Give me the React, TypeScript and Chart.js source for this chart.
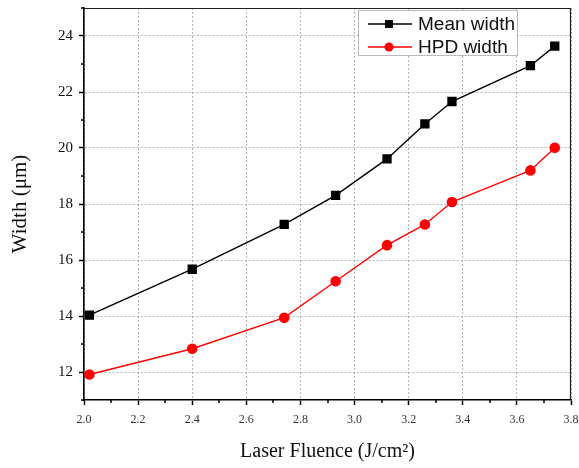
import { useEffect, useRef } from 'react';
import { Chart, registerables } from 'chart.js';

Chart.register(...registerables);

const fluence = [2.02, 2.40, 2.74, 2.93, 3.12, 3.26, 3.36, 3.65, 3.74];
const meanWidth = [14.03, 15.67, 17.27, 18.31, 19.61, 20.86, 21.66, 22.94, 23.64];
const hpdWidth = [11.91, 12.83, 13.94, 15.24, 16.53, 17.27, 18.07, 19.20, 20.01];
const seriesNames = ['Mean width', 'HPD width'];
const xTicks = [2.0, 2.2, 2.4, 2.6, 2.8, 3.0, 3.2, 3.4, 3.6, 3.8];
const xMinor = [2.1, 2.3, 2.5, 2.7, 2.9, 3.1, 3.3, 3.5, 3.7];
const yTicks = [12, 14, 16, 18, 20, 22, 24];
const yMinor = [11, 13, 15, 17, 19, 21, 23, 25];
const xTitle = 'Laser Fluence (J/cm²)';
const yTitle = 'Width (μm)';

const decor = {
  id: 'decor',
  afterDraw(chart: any) {
    const { ctx, chartArea: a, scales } = chart;
    const x = scales.x;
    const y = scales.y;
    ctx.save();
    // top and right frame
    ctx.strokeStyle = '#222';
    ctx.lineWidth = 1.2;
    ctx.beginPath();
    ctx.moveTo(a.left, a.top + 0.5);
    ctx.lineTo(a.right, a.top + 0.5);
    ctx.moveTo(a.right - 0.5, a.top);
    ctx.lineTo(a.right - 0.5, a.bottom);
    ctx.stroke();
    // minor ticks
    ctx.strokeStyle = '#000';
    ctx.lineWidth = 1.5;
    ctx.beginPath();
    xMinor.forEach((v) => {
      const px = Math.round(x.getPixelForValue(v));
      ctx.moveTo(px, a.bottom);
      ctx.lineTo(px, a.bottom + 3);
    });
    yMinor.forEach((v) => {
      const py = Math.round(y.getPixelForValue(v));
      ctx.moveTo(a.left, py);
      ctx.lineTo(a.left - 3, py);
    });
    ctx.stroke();

    // legend
    const bx = a.right - 213;
    const by = a.top + 2;
    const bw = 159;
    const bh = 45;
    ctx.fillStyle = '#fff';
    ctx.fillRect(bx, by, bw, bh);
    ctx.strokeStyle = '#777';
    ctx.lineWidth = 1;
    ctx.setLineDash([1, 1]);
    ctx.strokeRect(bx + 0.5, by + 0.5, bw, bh);
    ctx.setLineDash([]);
    chart.data.datasets.forEach((ds: any, i: number) => {
      const cy = by + 14 + i * 23;
      ctx.strokeStyle = ds.borderColor;
      ctx.lineWidth = 1.5;
      ctx.beginPath();
      ctx.moveTo(bx + 10, cy);
      ctx.lineTo(bx + 54, cy);
      ctx.stroke();
      ctx.fillStyle = ds.backgroundColor;
      if (ds.pointStyle === 'rect') {
        ctx.fillRect(bx + 27, cy - 4, 8, 8);
      } else {
        ctx.beginPath();
        ctx.arc(bx + 31, cy, 4.5, 0, Math.PI * 2);
        ctx.fill();
      }
      ctx.fillStyle = '#111';
      ctx.font = '19px "Liberation Sans", Arial, sans-serif';
      ctx.textBaseline = 'middle';
      ctx.textAlign = 'left';
      ctx.fillText(ds.label, bx + 60, cy + 1);
    });
    ctx.restore();
  },
};

export default function App() {
  const ref = useRef<HTMLCanvasElement | null>(null);
  useEffect(() => {
    document.body.style.margin = '0';
    const canvas = ref.current;
    if (!canvas) return;
    const serif = '"Liberation Serif", "Times New Roman", serif';
    const chart = new Chart(canvas, {
      type: 'line',
      data: {
        datasets: [
          {
            label: seriesNames[0],
            data: fluence.map((f, i) => ({ x: f, y: meanWidth[i] })),
            borderColor: '#000',
            backgroundColor: '#000',
            borderWidth: 1.4,
            pointStyle: 'rect',
            pointRadius: 5.6,
            tension: 0,
          },
          {
            label: seriesNames[1],
            data: fluence.map((f, i) => ({ x: f, y: hpdWidth[i] })),
            borderColor: '#ff0000',
            backgroundColor: '#ff0000',
            borderWidth: 1.4,
            pointStyle: 'circle',
            pointRadius: 4.6,
            tension: 0,
          },
        ],
      },
      options: {
        responsive: false,
        animation: false,
        layout: { padding: { left: 0, right: 8, top: 8, bottom: 0 } },
        plugins: { legend: { display: false }, tooltip: { enabled: false } },
        scales: {
          x: {
            type: 'linear',
            min: 2.0,
            max: 3.8,
            afterBuildTicks: (s: any) => {
              s.ticks = xTicks.map((v) => ({ value: v }));
            },
            afterFit: (s: any) => {
              s.height = 68;
              s.paddingLeft = 0;
              s.paddingRight = 0;
            },
            grid: {
              color: '#b4b4b4',
              lineWidth: 1,
              tickLength: 5,
              tickColor: '#000',
              tickWidth: 1.5,
            },
            border: { color: '#000', width: 1.6, dash: [2, 2] },
            ticks: {
              color: '#333',
              font: { family: serif, size: 12 },
              padding: 8,
              maxRotation: 0,
              autoSkip: false,
              callback: (v: any) => Number(v).toFixed(1),
            },
            title: {
              display: true,
              text: xTitle,
              color: '#111',
              font: { family: serif, size: 20 },
              padding: { top: 0, bottom: 4 },
            },
          },
          y: {
            type: 'linear',
            min: 11,
            max: 25,
            afterBuildTicks: (s: any) => {
              s.ticks = yTicks.map((v) => ({ value: v }));
            },
            afterFit: (s: any) => {
              s.width = 84;
              s.paddingTop = 0;
              s.paddingBottom = 0;
            },
            grid: {
              color: '#b4b4b4',
              lineWidth: 1,
              tickLength: 5,
              tickColor: '#000',
              tickWidth: 1.5,
            },
            border: { color: '#000', width: 1.6, dash: [2, 2] },
            ticks: {
              color: '#111',
              font: { family: serif, size: 15 },
              padding: 6,
              autoSkip: false,
              callback: (v: any) => String(v),
            },
            title: {
              display: true,
              text: yTitle,
              color: '#111',
              font: { family: serif, size: 21 },
              padding: { top: 8, bottom: 0 },
            },
          },
        },
      },
      plugins: [decor],
    });
    return () => chart.destroy();
  }, []);
  return (
    <div style={{ width: 579, height: 468 }}>
      <canvas ref={ref} width={579} height={468} />
    </div>
  );
}
